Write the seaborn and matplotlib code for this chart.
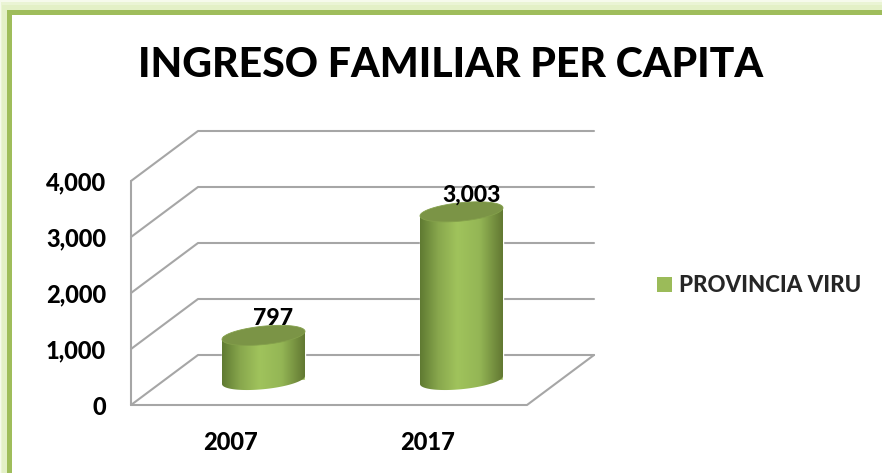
import numpy as np
import pandas as pd
import matplotlib
matplotlib.use("Agg")
import matplotlib.pyplot as plt
import seaborn as sns
from matplotlib.colors import LinearSegmentedColormap
from matplotlib.patches import Polygon, Rectangle
from matplotlib.transforms import Affine2D

title = "INGRESO FAMILIAR PER CAPITA"
series_name = "PROVINCIA VIRU"
years = ["2007", "2017"]
values = [797, 3003]
value_ticks = [0, 1000, 2000, 3000, 4000]

sns.set_theme(style="white")
plt.rcParams["font.family"] = ["Lato", "DejaVu Sans"]
WEIGHT = 900
plt.rcParams["font.weight"] = WEIGHT

W, H = 882, 473
fig = plt.figure(figsize=(W / 100, H / 100), dpi=100, facecolor="white")


def frame(x0, y0, color, z):
    fig.patches.append(Rectangle((x0 / W, 0), 1.2, (H - y0) / H, transform=fig.transFigure,
                                 facecolor=color, edgecolor="none", zorder=z))


for x0, y0, c, z in [(0, 0, "#F6FAEC", -6), (1, 2, "#EAF4D4", -5), (2, 5, "#E3F0C6", -4),
                     (7, 10, "#9FBD5B", -3), (12, 15, "white", -2)]:
    frame(x0, y0, c, z)

ax = fig.add_axes([131 / W, (H - 405) / H, 396 / W, 224 / H])
ax.patch.set_alpha(0)
df = pd.DataFrame({"year": years, "value": values})
GREEN = "#9BBB59"
sns.barplot(data=df, x="year", y="value", color=GREEN, saturation=1, width=83 / 198,
            ax=ax, zorder=2, label=series_name, legend=False)
ax.set_xlim(-0.5, 1.5)
ax.set_ylim(0, 4000)

# depth of the pseudo-3D box, in data units
dx, dy = 67 / 198, 50 / 0.056
grey = "#A6A6A6"
lw = 1.5
for v in value_ticks:
    ax.plot([-0.5, -0.5 + dx, 1.5 + dx], [v, v + dy, v + dy], color=grey, lw=lw, zorder=1, clip_on=False)
ax.plot([-0.5, 1.5, 1.5 + dx], [0, 0, dy], color=grey, lw=lw, zorder=1, clip_on=False)
ax.plot([-0.5, -0.5], [0, 4000], color=grey, lw=lw, zorder=1, clip_on=False)

shift = Affine2D().translate(dx / 2, dy / 2) + ax.transData
cmap = LinearSegmentedColormap.from_list("cyl", [(0, "#5F7A32"), (0.22, "#88A74D"), (0.45, "#A0C35C"),
                                                 (0.72, "#94B655"), (1, "#627832")])
grad = np.linspace(0, 1, 256).reshape(1, -1)
b_val, s_val = 9.2 / 0.056, 4 / 0.056
t = np.linspace(0, 2 * np.pi, 121)
for bar in ax.patches:
    bar.set_transform(shift)
    bar.set_clip_on(False)
    x0, w, h = bar.get_x(), bar.get_width(), bar.get_height()
    xm, a = x0 + w / 2, w / 2
    ex = xm + a * np.cos(t)
    ey_off = b_val * np.sin(t) + s_val * np.cos(t)
    lower = t[(t >= np.pi) & (t <= 2 * np.pi)]
    low_x = xm + a * np.cos(lower)
    low_y = b_val * np.sin(lower) + s_val * np.cos(lower)
    body = np.column_stack([np.r_[low_x, x0 + w, x0], np.r_[low_y, h + s_val, h - s_val]])
    im = ax.imshow(grad, cmap=cmap, aspect="auto", zorder=3, interpolation="bilinear",
                   extent=(x0 + dx / 2, x0 + w + dx / 2, dy / 2 - 2 * b_val, dy / 2 + h + 2 * b_val))
    clip = Polygon(body, closed=True, transform=shift, facecolor="none", edgecolor="none")
    ax.add_patch(clip)
    im.set_clip_path(clip)
    ax.add_patch(Polygon(np.column_stack([ex, h + ey_off]), closed=True, transform=shift,
                         facecolor="#7B9446", edgecolor="#84A04B", lw=0.6, zorder=4, clip_on=False))
    ax.annotate(f"{h:,.0f}", (xm, h), xycoords=shift, xytext=(7, 12), textcoords="offset points",
                ha="center", va="center", fontsize=16.5, fontweight=WEIGHT, color="black",
                zorder=5, annotation_clip=False)
ax.set_xlim(-0.5, 1.5)
ax.set_ylim(0, 4000)

ax.set_xlabel("")
ax.set_ylabel("")
ax.set_yticks(value_ticks)
ax.set_yticklabels([f"{v:,}" for v in value_ticks], fontsize=17, fontweight=WEIGHT, color="black")
ax.set_xticks(range(len(years)))
ax.set_xticklabels(years, fontsize=17, fontweight=WEIGHT, color="black")
ax.tick_params(axis="y", length=0, pad=18)
ax.tick_params(axis="x", length=0, pad=18.5)
sns.despine(ax=ax, left=True, bottom=True)

fig.text(451 / W, 1 - 65 / H, title, ha="center", va="center", fontsize=29.5, fontweight=WEIGHT, color="black")

handle = Rectangle((0, 0), 1, 1, facecolor=GREEN, edgecolor="none")
fig.legend([handle], [series_name], loc="center left", bbox_to_anchor=(657 / W, 1 - 285.5 / H),
           frameon=False, prop={"size": 16, "weight": WEIGHT}, handlelength=0.68, handleheight=0.68,
           handletextpad=0.3, borderpad=0, borderaxespad=0)

fig.savefig("out.png", dpi=100)
